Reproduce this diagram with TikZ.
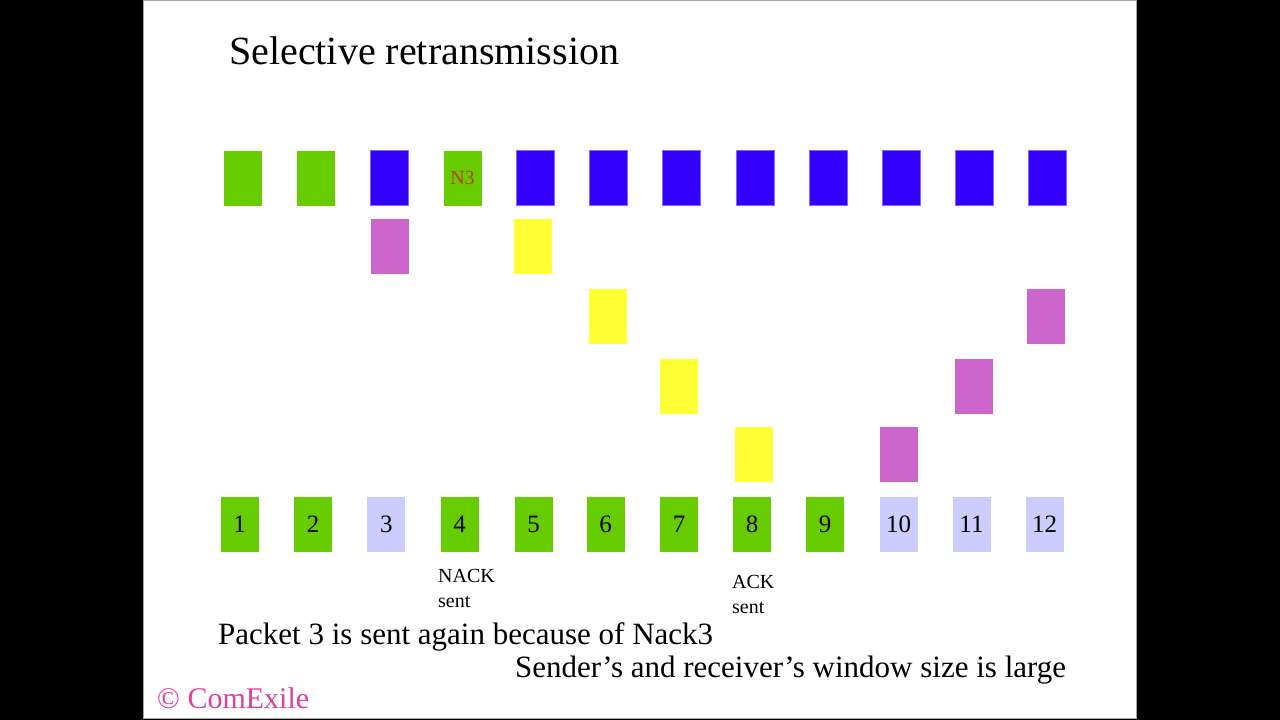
\documentclass[tikz,border=0pt]{standalone}
\usepackage{fontspec}
\setmainfont{Liberation Serif}
\definecolor{pgreen}{HTML}{66CC00}
\definecolor{pblue}{HTML}{3300FF}
\definecolor{ppink}{HTML}{CC66CC}
\definecolor{pyellow}{HTML}{FFFF33}
\definecolor{plav}{HTML}{CCCCFF}
\definecolor{nred}{HTML}{B8400F}
\definecolor{cmag}{HTML}{E040A0}
\tikzset{
  pkt/.style={rectangle, minimum width=38pt, minimum height=55pt, inner sep=0pt, draw=none, font=\fontsize{25}{25}\selectfont},
  gbox/.style={pkt, fill=pgreen},
  bbox/.style={pkt, fill=pblue, draw=pblue!60!white, line width=0.6pt},
  kbox/.style={pkt, fill=ppink},
  ybox/.style={pkt, fill=pyellow},
  lbox/.style={pkt, fill=plav},
  note/.style={inner sep=0pt, align=left, font=\fontsize{20}{25}\selectfont},
  body/.style={inner sep=0pt, anchor=base west, font=\fontsize{31}{31}\selectfont}
}
\begin{document}
\begin{tikzpicture}[x=1pt,y=-1pt]
\useasboundingbox (0,0) rectangle (1280,720);
\fill[black] (0,0) rectangle (1280,720);
\fill[white, draw=gray!70, line width=1pt] (143.5,0.5) rectangle (1136.5,718.5);
\node[inner sep=0pt, anchor=base west, font=\fontsize{40}{40}\selectfont] (title) at (229,64) {Selective retransmission};
% top row (sender)
\node[gbox] (t1) at (242.5,178) {};
\node[gbox] (t2) at (315.7,178) {};
\node[bbox] (t3) at (389.2,178) {};
\node[gbox, text=nred, font=\fontsize{20}{20}\selectfont] (t4) at (462.5,178) {N3};
\node[bbox] (t5) at (535.5,178) {};
\node[bbox] (t6) at (608.5,178) {};
\node[bbox] (t7) at (681.5,178) {};
\node[bbox] (t8) at (755,178) {};
\node[bbox] (t9) at (828,178) {};
\node[bbox] (t10) at (901,178) {};
\node[bbox] (t11) at (974,178) {};
\node[bbox] (t12) at (1047.5,178) {};
% packets in flight
\node[kbox] (m3) at (390,246.5) {};
\node[ybox] (m5) at (533,246.5) {};
\node[ybox] (m6) at (607.5,316) {};
\node[kbox] (m12) at (1045.5,316) {};
\node[ybox] (m7) at (679,386) {};
\node[kbox] (m11) at (973.5,386) {};
\node[ybox] (m8) at (754,454.5) {};
\node[kbox] (m10) at (899,454.5) {};
% bottom row (receiver)
\node[gbox] (b1) at (239.5,524.5) {1};
\node[gbox] (b2) at (313,524.5) {2};
\node[lbox] (b3) at (386.3,524.5) {3};
\node[gbox] (b4) at (459.5,524.5) {4};
\node[gbox] (b5) at (533.5,524.5) {5};
\node[gbox] (b6) at (605.5,524.5) {6};
\node[gbox] (b7) at (679,524.5) {7};
\node[gbox] (b8) at (752,524.5) {8};
\node[gbox] (b9) at (825,524.5) {9};
\node[lbox] (b10) at (898.5,524.5) {10};
\node[lbox] (b11) at (971.5,524.5) {11};
\node[lbox] (b12) at (1044.5,524.5) {12};
% notes
\node[note, anchor=north west] (nack) at (438,569) {NACK\\sent};
\node[note, anchor=north west] (ack) at (732,575) {ACK\\sent};
\node[body] (l1) at (218,644) {Packet 3 is sent again because of Nack3};
\node[body] (l2) at (515,677) {Sender’s and receiver’s window size is large};
\node[inner sep=0pt, anchor=base west, text=cmag, font=\fontsize{30}{30}\selectfont] (copy) at (157,708) {© ComExile};
\end{tikzpicture}
\end{document}
